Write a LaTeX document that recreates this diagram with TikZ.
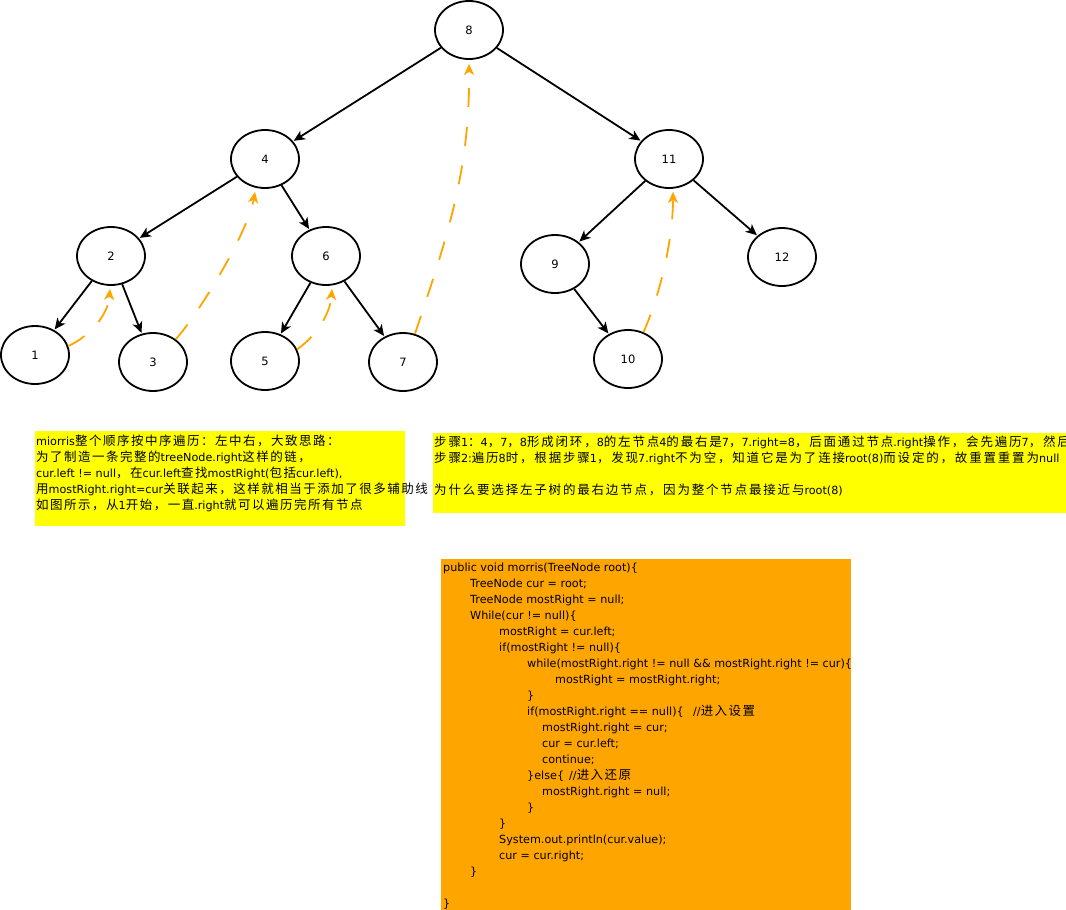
\documentclass[tikz,border=0pt]{standalone}
\usepackage{fontspec}
\setmainfont{DejaVu Sans}
\newfontfamily\zhwide[LetterSpace=12]{Noto Sans CJK SC}
\newfontfamily\zhwider[LetterSpace=14.5]{Noto Sans CJK SC}
\newcommand\za[1]{{\zhwide\fontsize{12.5pt}{16pt}\selectfont #1}}
\newcommand\zb[1]{{\zhwider\fontsize{12.5pt}{16pt}\selectfont #1}}
\usetikzlibrary{shapes.geometric,arrows.meta}
\definecolor{orng}{HTML}{FFA500}
\definecolor{yel}{HTML}{FFFF00}
\begin{document}
\begin{tikzpicture}[x=1pt,y=-1pt,
  tn/.style={ellipse, draw, line width=1.8pt, minimum width=68pt, minimum height=58pt, inner sep=0pt, font=\fontsize{11.5}{13}\selectfont},
  edge/.style={line width=1.8pt, shorten >=0.8pt, -{Stealth[length=11pt,width=10pt,inset=3pt]}},
  thread/.style={draw=orng, line width=1.8pt, dash pattern=on 19pt off 20pt, -{Stealth[length=11pt,width=10pt,inset=3pt,fill=orng]}},
  txt/.style={anchor=base west, inner sep=0pt, font=\fontsize{11.2}{16}\selectfont},
  panel/.style={anchor=north west, inner sep=0pt, outer sep=0pt, draw=none},
]
\useasboundingbox (0,0) rectangle (1066,910);

% tree nodes
\node[tn] (n8) at (469,30) {8};
\node[tn] (n4) at (265,159) {4};
\node[tn] (n11) at (669,159) {11};
\node[tn] (n2) at (111,256) {2};
\node[tn] (n6) at (326,256) {6};
\node[tn] (n9) at (555,264) {9};
\node[tn] (n12) at (782,257) {12};
\node[tn] (n1) at (35,355) {1};
\node[tn] (n3) at (153,362) {3};
\node[tn] (n5) at (265,361) {5};
\node[tn] (n7) at (403,362) {7};
\node[tn] (n10) at (628,359) {10};

% tree edges
\draw[edge] (n8) -- (n4);
\draw[edge] (n8) -- (n11);
\draw[edge] (n4) -- (n2);
\draw[edge] (n4) -- (n6);
\draw[edge] (n2) -- (n1);
\draw[edge] (n2) -- (n3);
\draw[edge] (n6) -- (n5);
\draw[edge] (n6) -- (n7);
\draw[edge] (n11) -- (n9);
\draw[edge] (n11) -- (n12);
\draw[edge] (n9) -- (n10);

% threads (mostRight.right = cur)
\draw[thread] (n1.15) .. controls (90,336) and (108,315) .. ([shift={(-1pt,-3pt)}]n2.south);
\draw[thread] (n3.45) .. controls (200,312) and (248,232) .. ([shift={(-10pt,-3pt)}]n4.south);
\draw[thread] (n5.20) .. controls (315,337) and (330,315) .. ([shift={(6pt,-3pt)}]n6.south);
\draw[thread] (n7.67) .. controls (448,235) and (470,170) .. ([shift={(0pt,-4pt)}]n8.south);
\draw[thread] (n10.60) .. controls (660,295) and (673,240) .. ([shift={(4pt,-3pt)}]n11.south);

% panels
\node[panel, fill=yel, minimum width=370pt, minimum height=95pt] (box1) at (35,431) {};
\node[panel, fill=yel, minimum width=633pt, minimum height=80pt] (box2) at (433,433) {};
\node[panel, fill=orng, minimum width=410pt, minimum height=351pt] (code) at (441,559) {};

% box 1 text
\node[txt] (a1) at (36,445) {miorris\za{整个顺序按中序遍历：左中右，大致思路：}};
\node[txt] (a2) at (36,461) {\za{为了制造一条完整的}treeNode.right\za{这样的链，}};
\node[txt] (a3) at (36,477) {cur.left != null\za{，在}cur.left\za{查找}mostRight(\za{包括}cur.left),};
\node[txt] (a4) at (36,493) {\za{用}mostRight.right=cur\za{关联起来，这样就相当于添加了很多辅助线}};
\node[txt] (a5) at (36,509) {\za{如图所示，从}1\za{开始，一直}.right\za{就可以遍历完所有节点}};

% box 2 text
\node[txt] (b1) at (434,446) {\zb{步骤}1\zb{：}4\zb{，}7\zb{，}8\zb{形成闭环，}8\zb{的左节点}4\zb{的最右是}7\zb{，}7.right=8\zb{，后面通过节点}.right\zb{操作，会先遍历}7\zb{，然后}};
\node[txt] (b2) at (434,462) {\zb{步骤}2:\zb{遍历}8\zb{时，根据步骤}1\zb{，发现}7.right\zb{不为空，知道它是为了连接}root(8)\zb{而设定的，故重置重置为}null};
\node[txt] (b3) at (434,494) {\zb{为什么要选择左子树的最右边节点，因为整个节点最接近与}root(8)};

% code
\node[txt] (c1) at (443,571) {public void morris(TreeNode root)\{};
\node[txt] (c2) at (470,587) {TreeNode cur = root;};
\node[txt] (c3) at (470,603) {TreeNode mostRight = null;};
\node[txt] (c4) at (470,619) {While(cur != null)\{};
\node[txt] (c5) at (499,635) {mostRight = cur.left;};
\node[txt] (c6) at (499,651) {if(mostRight != null)\{};
\node[txt] (c7) at (527,667) {while(mostRight.right != null \&\& mostRight.right != cur)\{};
\node[txt] (c8) at (555,683) {mostRight = mostRight.right;};
\node[txt] (c9) at (527,699) {\}};
\node[txt] (c10) at (527,715) {if(mostRight.right == null)\{};
\node[txt] (c10b) at (693,715) {//\za{进入设置}};
\node[txt] (c11) at (542,731) {mostRight.right = cur;};
\node[txt] (c12) at (542,747) {cur = cur.left;};
\node[txt] (c13) at (542,763) {continue;};
\node[txt] (c14) at (527,779) {\}else\{};
\node[txt] (c14b) at (569,779) {//\za{进入还原}};
\node[txt] (c15) at (542,795) {mostRight.right = null;};
\node[txt] (c16) at (527,811) {\}};
\node[txt] (c17) at (499,827) {\}};
\node[txt] (c18) at (499,843) {System.out.println(cur.value);};
\node[txt] (c19) at (499,859) {cur = cur.right;};
\node[txt] (c20) at (470,875) {\}};
\node[txt] (c22) at (443,907) {\}};
\end{tikzpicture}
\end{document}
